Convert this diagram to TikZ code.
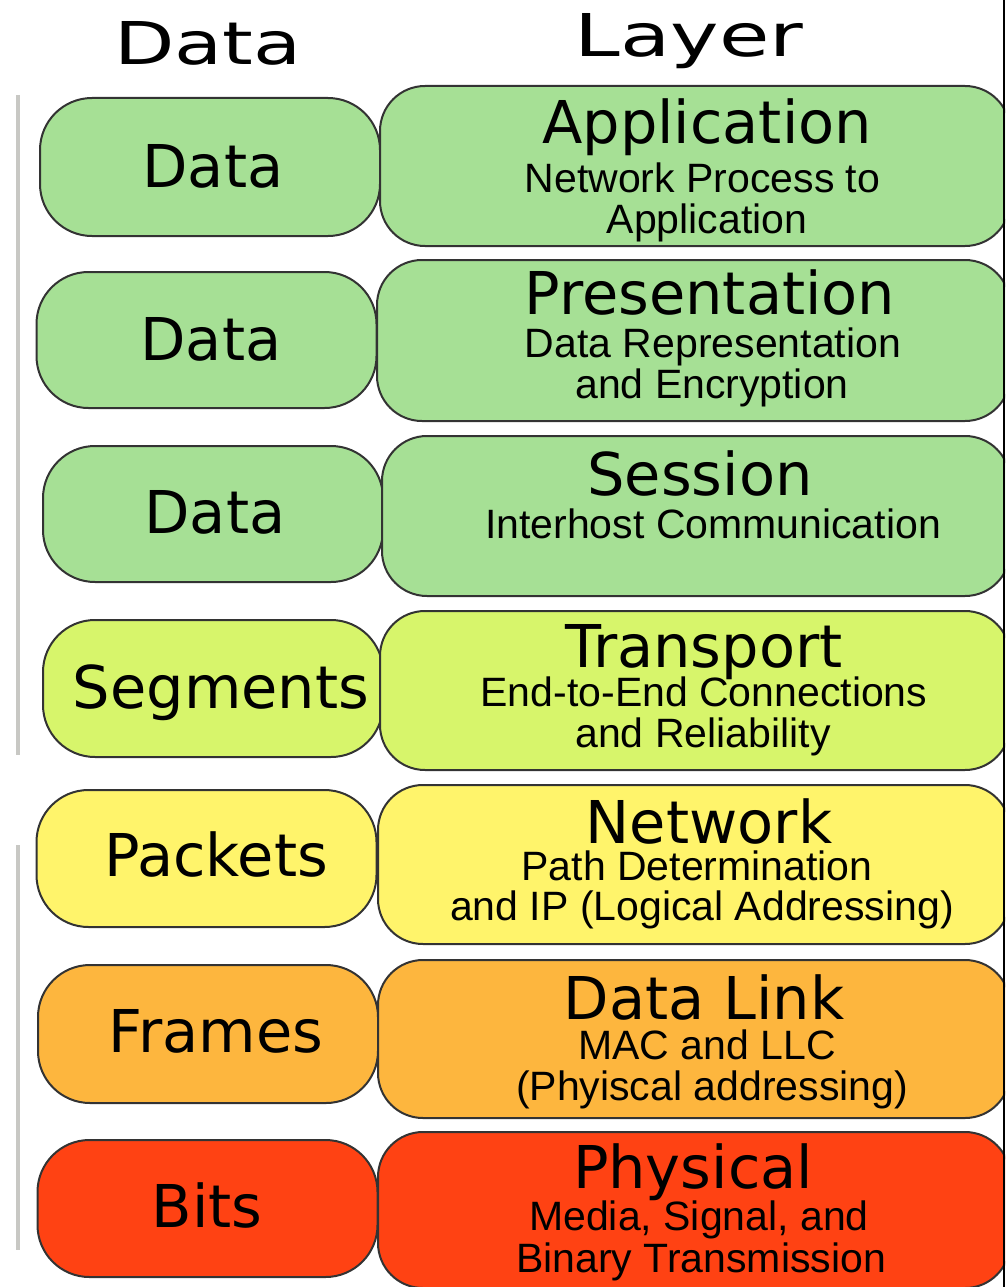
\documentclass[tikz,border=0pt]{standalone}
\usepackage{fontspec}
\setmainfont{DejaVu Sans}
\newfontfamily\subfont{Liberation Sans}
\definecolor{cgreen}{HTML}{A6E095}
\definecolor{cygreen}{HTML}{D7F56B}
\definecolor{cyellow}{HTML}{FFF46B}
\definecolor{corange}{HTML}{FDB63E}
\definecolor{cred}{HTML}{FF4213}
\definecolor{cgrayline}{HTML}{C8C8C4}
\begin{document}
\begin{tikzpicture}[x=1pt,y=-1pt,
  box/.style={draw=black!80, line width=2pt, rounded corners=45pt, inner sep=0pt},
  lbox/.style={box, rounded corners=52pt, minimum width=340pt},
  ttl/.style={anchor=base, inner sep=0pt, font=\fontsize{59}{60}\selectfont},
  sub/.style={anchor=base, inner sep=0pt, font=\subfont\fontsize{41}{42}\selectfont},
  hdr/.style={anchor=base, inner sep=0pt, font=\fontsize{59}{60}\selectfont}]
\useasboundingbox (0,0) rectangle (1005,1287);
\begin{scope}
\clip (0,0) rectangle (1005,1287);
% headers
\node[hdr] (hdata) at (208,65) {\scalebox{1.33}[1]{Data}};
\node[hdr] (hlayer) at (689,57) {\scalebox{1.39}[1]{Layer}};
% left gray lines
\coordinate (g1a) at (18,95);
\coordinate (g1b) at (18,755);
\coordinate (g2a) at (18,845);
\coordinate (g2b) at (18,1250);
\draw[cgrayline, line width=4pt] (g1a) -- (g1b);
\draw[cgrayline, line width=4pt] (g2a) -- (g2b);
% left boxes
\node[lbox, fill=cgreen, minimum height=138pt] (d1) at (210,167) {};
\node[lbox, fill=cgreen, minimum height=136pt] (d2) at (206.5,340) {};
\node[lbox, fill=cgreen, minimum height=136pt] (d3) at (213,514) {};
\node[lbox, fill=cygreen, minimum height=137pt] (d4) at (213,688.5) {};
\node[lbox, fill=cyellow, minimum height=137pt] (d5) at (206.5,858.5) {};
\node[lbox, fill=corange, minimum height=138pt] (d6) at (208,1034) {};
\node[lbox, fill=cred, minimum height=137pt] (d7) at (207.5,1208.5) {};
% right boxes (right edge at 1010, clipped)
\node[box, fill=cgreen, minimum width=630pt, minimum height=160pt] (l1) at (695,166) {};
\node[box, fill=cgreen, minimum width=633pt, minimum height=161pt] (l2) at (693.5,340.5) {};
\node[box, fill=cgreen, minimum width=628pt, minimum height=160pt] (l3) at (696,516) {};
\node[box, fill=cygreen, minimum width=630pt, minimum height=159pt] (l4) at (695,690.5) {};
\node[box, fill=cyellow, minimum width=632pt, minimum height=159pt] (l5) at (694,864.5) {};
\node[box, fill=corange, minimum width=632pt, minimum height=158pt] (l6) at (694,1039) {};
\node[box, fill=cred, minimum width=632pt, minimum height=156pt] (l7) at (694,1210) {};
% left texts
\node[ttl] (t1) at (213,187) {Data};
\node[ttl] (t2) at (211,360) {Data};
\node[ttl] (t3) at (215,533) {Data};
\node[ttl] (t4) at (221,708) {Segments};
\node[ttl] (t5) at (216,876) {Packets};
\node[ttl] (t6) at (216,1052) {Frames};
\node[ttl] (t7) at (207,1227) {Bits};
% right texts
\node[ttl] (a0) at (707,143) {Application};
\node[sub] (a1) at (702.5,192) {Network Process to};
\node[sub] (a2) at (707,233) {Application};
\node[ttl] (p0) at (710,314) {Presentation};
\node[sub] (p1) at (713,357) {Data Representation};
\node[sub] (p2) at (712,398) {and Encryption};
\node[ttl] (s0) at (700,495) {Session};
\node[sub] (s1) at (713,538) {Interhost Communication};
\node[ttl] (tr0) at (704,667) {Transport};
\node[sub] (tr1) at (704,706) {End-to-End Connections};
\node[sub] (tr2) at (703,747) {and Reliability};
\node[ttl] (n0) at (709,843) {Network};
\node[sub] (n1) at (697,880) {Path Determination};
\node[sub] (n2) at (702,920) {and IP (Logical Addressing)};
\node[ttl] (dl0) at (704,1019) {Data Link};
\node[sub] (dl1) at (707,1059) {MAC and LLC};
\node[sub] (dl2) at (712,1100) {(Phyiscal addressing)};
\node[ttl] (ph0) at (693,1188) {Physical};
\node[sub] (ph1) at (699,1230) {Media, Signal, and};
\node[sub] (ph2) at (701,1272) {Binary Transmission};
% right frame line
\coordinate (ra) at (1003.5,0);
\coordinate (rb) at (1003.5,1287);
\draw[black, line width=2pt] (ra) -- (rb);
\end{scope}
\end{tikzpicture}
\end{document}
